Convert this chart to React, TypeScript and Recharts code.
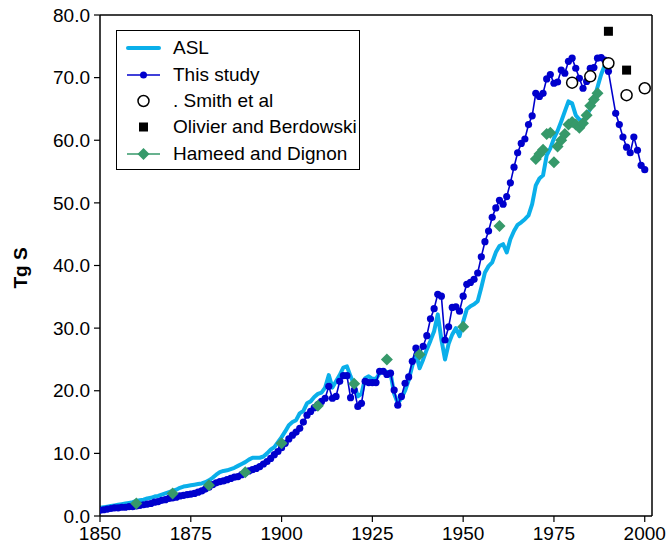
import { ComposedChart, Line, XAxis, YAxis, Legend, ReferenceLine } from 'recharts';

const FIRST_YEAR = 1850;

// "This study", annual 1850-2000 (Tg S); null = no point drawn
const studyValues: (number | null)[] = [
  0.9, 1.0, 1.1, 1.2, 1.3, 1.3, 1.4, 1.4, 1.5, 1.5,
  1.6, 1.7, 1.8, 1.9, 2.0, 2.2, 2.3, 2.5, 2.6, 2.8,
  2.9, 3.0, 3.2, 3.3, 3.4, 3.5, 3.6, 3.8, 4.0, 4.3,
  4.6, 5.0, 5.3, 5.5, 5.6, 5.8, 6.0, 6.2, 6.3, 6.6,
  6.9, 7.2, 7.4, 7.6, 7.9, 8.3, 8.7, 9.2, 9.8, 10.3,
  10.9, 11.6, 12.3, 12.9, 13.4, 14.0, 15.0, 16.1, 16.7, 17.3,
  17.8, 18.3, 18.8, 20.7, 18.8, 19.1, 21.5, 22.4, 22.4, 18.9,
  20.1, 17.5, 18.0, 21.5, 21.3, 21.3, 21.3, 23.1, 23.1, 22.6,
  22.8, 20.1, 17.7, 19.1, 21.2, 22.2, 24.7, 26.8, 25.8, 27.1,
  28.8, 31.5, 33.1, 35.4, 35.1, 28.1, 30.2, 33.3, 33.4, 32.7,
  35.1, 37.0, 37.3, 37.8, 38.8, 41.4, 43.8, 45.5, 47.7, 49.2,
  50.4, 49.8, 51.0, 53.2, 55.7, 58.0, 59.5, 60.2, 62.5, 63.9,
  67.5, 67.0, 67.5, 69.8, 70.5, 69.1, 69.3, 71.2, 70.7, 72.6,
  73.1, 71.5, 69.9, 68.3, 69.4, 71.5, 71.6, 73.1, 73.2, 72.8,
  71.0, null, 64.3, 62.5, 60.5, 58.9, 58.0, 60.5, 58.4, 56.0,
  55.3,
];

// ASL, annual 1850-1990
const aslValues: number[] = [
  1.3, 1.4, 1.5, 1.6, 1.7, 1.8, 1.9, 2.0, 2.1, 2.2,
  2.4, 2.5, 2.6, 2.8, 2.9, 3.1, 3.2, 3.4, 3.6, 3.8,
  4.0, 4.2, 4.5, 4.7, 4.8, 4.9, 5.0, 5.1, 5.2, 5.4,
  5.7, 6.1, 6.6, 7.0, 7.2, 7.3, 7.5, 7.7, 8.0, 8.3,
  8.6, 9.0, 9.3, 9.3, 9.3, 9.5, 10.0, 10.6, 11.0, 11.8,
  12.6, 13.5, 14.5, 15.0, 15.3, 16.4, 16.8, 18.0, 18.3, 19.0,
  19.5, 19.7, 20.5, 22.5, 20.5, 21.5, 22.5, 23.7, 23.9, 22.3,
  21.0, 19.1, 19.5, 22.0, 22.3, 21.9, 21.9, 22.8, 23.0, 23.0,
  22.8, 19.5, 18.0, 18.8, 20.0, 21.7, 24.0, 26.0, 23.6, 25.0,
  26.6, 28.0, 29.5, 32.2, 28.2, 25.0, 27.5, 29.0, 30.0, 28.7,
  31.0, 33.0, 33.5, 33.8, 34.3, 36.5, 38.9, 39.9, 40.5, 42.1,
  43.1, 43.4, 42.1, 44.2, 45.5, 46.5, 46.9, 47.4, 48.0, 49.8,
  52.8, 53.9, 54.4, 57.6, 58.7, 60.3, 61.5, 63.0, 64.6, 66.2,
  65.9, 64.0, 63.3, 63.0, 64.0, 65.0, 66.5, 68.5, 70.5, 72.0,
  72.6,
];

const hameedYears = [
  1860, 1870, 1880, 1890, 1900, 1910, 1920, 1929, 1938, 1950, 1960,
  1970, 1971, 1972, 1973, 1974, 1975, 1976, 1977, 1978, 1979,
  1980, 1981, 1982, 1983, 1984, 1985, 1986, 1987,
];
const hameedValues = [
  2.0, 3.6, 4.9, 7.0, 11.6, 17.6, 21.1, 25.0, 25.8, 30.2, 46.3,
  57.0, 57.8, 58.5, 61.0, 61.2, 56.5, 59.0, 60.0, 61.0, 62.5,
  62.9, 62.5, 62.0, 62.7, 64.0, 65.5, 66.5, 67.5,
];

const smithYears = [1980, 1985, 1990, 1995, 2000];
const smithValues = [69.2, 70.2, 72.3, 67.2, 68.3];

const olivierYears = [1990, 1995];
const olivierValues = [77.4, 71.2];

const xTicks = [1850, 1875, 1900, 1925, 1950, 1975, 2000];
const yTicks = [0, 10, 20, 30, 40, 50, 60, 70, 80];
const X_MIN = 1850;
const X_MAX = 2002;
const Y_MAX = 80;

const ASL_COLOR = '#0AAFEA';
const STUDY_COLOR = '#0000CD';
const HAMEED_COLOR = '#36996A';
const FONT = 'Arial, "Liberation Sans", Helvetica, sans-serif';

const pick = (years: number[], values: number[], year: number) => {
  const i = years.indexOf(year);
  return i >= 0 ? values[i] : null;
};

const data = studyValues.map((study, i) => {
  const year = FIRST_YEAR + i;
  return {
    year,
    study,
    asl: i < aslValues.length ? aslValues[i] : null,
    hameed: pick(hameedYears, hameedValues, year),
    smith: pick(smithYears, smithValues, year),
    olivier: pick(olivierYears, olivierValues, year),
  };
});

const makeDot = (key: string, draw: (cx: number, cy: number) => JSX.Element) =>
  (props: any) => {
    const { cx, cy, payload, index } = props;
    if (payload?.[key] == null || cy == null || cx == null) return <g key={`${key}-${index}`} />;
    return <g key={`${key}-${index}`}>{draw(cx, cy)}</g>;
  };

const circleShape = (cx: number, cy: number) => (
  <circle cx={cx} cy={cy} r={5.5} fill="#fff" stroke="#000" strokeWidth={1.5} />
);
const squareShape = (cx: number, cy: number) => (
  <rect x={cx - 4.5} y={cy - 4.5} width={9} height={9} fill="#000" />
);
const diamondShape = (cx: number, cy: number) => (
  <polygon
    points={`${cx},${cy - 6} ${cx + 6},${cy} ${cx},${cy + 6} ${cx - 6},${cy}`}
    fill={HAMEED_COLOR}
  />
);

const legendRows = [
  { label: 'ASL', kind: 'asl' },
  { label: 'This study', kind: 'study' },
  { label: '. Smith et al', kind: 'smith' },
  { label: 'Olivier and Berdowski', kind: 'olivier' },
  { label: 'Hameed and Dignon', kind: 'hameed' },
];

const LegendIcon = ({ kind }: { kind: string }) => {
  const cy = 13;
  switch (kind) {
    case 'asl':
      return <line x1={11} y1={cy} x2={42} y2={cy} stroke={ASL_COLOR} strokeWidth={4} strokeLinecap="round" />;
    case 'study':
      return (
        <g>
          <line x1={10} y1={cy} x2={43} y2={cy} stroke={STUDY_COLOR} strokeWidth={1.5} />
          <circle cx={26.5} cy={cy} r={3.5} fill={STUDY_COLOR} />
        </g>
      );
    case 'smith':
      return circleShape(26.5, cy);
    case 'olivier':
      return squareShape(26.5, cy);
    default:
      return (
        <g>
          <line x1={10} y1={cy} x2={43} y2={cy} stroke={HAMEED_COLOR} strokeWidth={1.5} />
          {diamondShape(26.5, cy)}
        </g>
      );
  }
};

const LegendBox = () => (
  <div
    style={{
      width: 244,
      height: 140,
      border: '1px solid #000',
      boxSizing: 'border-box',
      background: '#fff',
      paddingTop: 4,
      fontFamily: FONT,
      color: '#000',
    }}
  >
    {legendRows.map((row) => (
      <div key={row.kind} style={{ display: 'flex', alignItems: 'center', height: 26.4 }}>
        <svg width={56} height={26} style={{ flex: 'none' }}>
          <LegendIcon kind={row.kind} />
        </svg>
        <span style={{ fontSize: 19, lineHeight: '26px', whiteSpace: 'nowrap' }}>{row.label}</span>
      </div>
    ))}
  </div>
);

const tickStyle = { fontSize: 19, fill: '#000', fontFamily: FONT };

export default function App() {
  return (
    <div style={{ position: 'absolute', left: 0, top: 0, width: 670, height: 555, background: '#fff', fontFamily: FONT }}>
      <ComposedChart width={670} height={555} data={data} margin={{ top: 15, right: 18, bottom: 0, left: 0 }}>
        <XAxis
          dataKey="year"
          type="number"
          domain={[X_MIN, X_MAX]}
          ticks={xTicks}
          allowDataOverflow
          tick={tickStyle}
          tickSize={6}
          tickMargin={5}
          height={39}
          axisLine={{ stroke: '#000', strokeWidth: 1.5 }}
          tickLine={{ stroke: '#000', strokeWidth: 1.2 }}
        />
        <YAxis
          type="number"
          domain={[0, Y_MAX]}
          ticks={yTicks}
          width={100}
          tick={tickStyle}
          tickSize={6}
          tickMargin={4}
          tickFormatter={(v: number) => v.toFixed(1)}
          axisLine={{ stroke: '#000', strokeWidth: 1.5 }}
          tickLine={{ stroke: '#000', strokeWidth: 1.2 }}
          label={{
            content: () => (
              <text
                x={27}
                y={268}
                transform="rotate(-90 27 268)"
                textAnchor="middle"
                fontSize={19}
                fontWeight="bold"
                fontFamily={FONT}
                fill="#000"
              >
                Tg S
              </text>
            ),
          }}
        />
        {/* frame: top and right edges of the plot box */}
        <ReferenceLine y={Y_MAX} stroke="#000" strokeWidth={1.5} ifOverflow="extendDomain" />
        <ReferenceLine x={X_MAX} stroke="#000" strokeWidth={1.5} ifOverflow="extendDomain" />
        <Legend
          content={<LegendBox />}
          layout="vertical"
          align="center"
          verticalAlign="middle"
          wrapperStyle={{ left: 116, top: 30, width: 244, height: 140, margin: 0, padding: 0 }}
        />
        <Line
          dataKey="asl"
          type="linear"
          stroke={ASL_COLOR}
          strokeWidth={4}
          strokeLinejoin="round"
          dot={false}
          activeDot={false}
          isAnimationActive={false}
        />
        <Line
          dataKey="study"
          type="linear"
          stroke={STUDY_COLOR}
          strokeWidth={1.6}
          connectNulls
          dot={makeDot('study', (cx, cy) => <circle cx={cx} cy={cy} r={3.6} fill={STUDY_COLOR} />)}
          activeDot={false}
          isAnimationActive={false}
        />
        <Line
          dataKey="hameed"
          stroke="none"
          dot={makeDot('hameed', diamondShape)}
          activeDot={false}
          isAnimationActive={false}
        />
        <Line
          dataKey="smith"
          stroke="none"
          dot={makeDot('smith', circleShape)}
          activeDot={false}
          isAnimationActive={false}
        />
        <Line
          dataKey="olivier"
          stroke="none"
          dot={makeDot('olivier', squareShape)}
          activeDot={false}
          isAnimationActive={false}
        />
      </ComposedChart>
    </div>
  );
}
